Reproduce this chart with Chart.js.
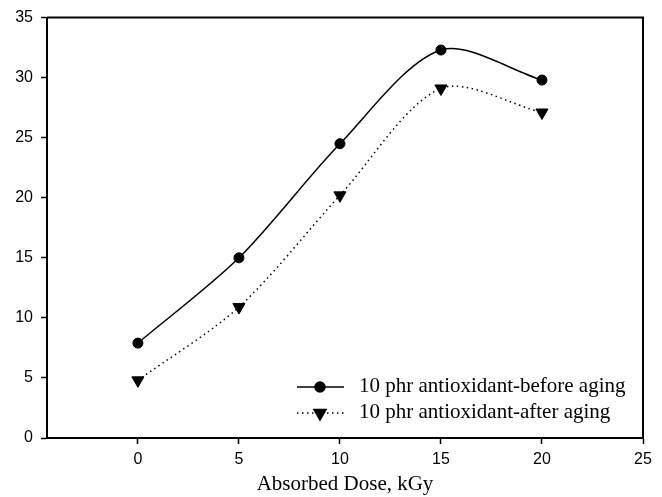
<!DOCTYPE html>
<html>
<head>
<meta charset="utf-8">
<script src="https://cdn.jsdelivr.net/npm/chart.js@4.4.1/dist/chart.umd.min.js"></script>
<style>
    html, body { margin: 0; padding: 0; background: #fff; }
    #wrap { width: 662px; height: 497px; }
</style>
</head>
<body>
<div id="wrap"><canvas id="chartDose"></canvas></div>
<script>
const doseValues = [0, 5, 10, 15, 20];
const beforeAging = [7.9, 15.0, 24.5, 32.3, 29.8];
const afterAging = [4.8, 10.9, 20.2, 29.1, 27.1];
const seriesLabels = ['10 phr antioxidant-before aging', '10 phr antioxidant-after aging'];
const xTicks = [0, 5, 10, 15, 20, 25];
const yTicks = [0, 5, 10, 15, 20, 25, 30, 35];

const toPoints = (ys) => doseValues.map((x, i) => ({ x: x, y: ys[i] }));

// frame on top / right + legend inside the plot
const framePlugin = {
    id: 'framePlugin',
    afterDraw(chart) {
        const ctx = chart.ctx;
        const a = chart.chartArea;
        ctx.save();
        ctx.strokeStyle = '#000';
        ctx.lineWidth = 2;
        ctx.beginPath();
        ctx.moveTo(a.left, a.top);
        ctx.lineTo(a.right, a.top);
        ctx.lineTo(a.right, a.bottom);
        ctx.stroke();

        const rows = [387, 413];
        chart.data.datasets.forEach((ds, i) => {
            const y = rows[i];
            ctx.lineWidth = ds.borderWidth;
            ctx.setLineDash(ds.borderDash || []);
            ctx.beginPath();
            ctx.moveTo(297, y);
            ctx.lineTo(344, y);
            ctx.stroke();
            ctx.setLineDash([]);
            ctx.fillStyle = '#000';
            Chart.helpers.drawPoint(ctx, {
                pointStyle: ds.pointStyle,
                radius: ds.pointRadius,
                rotation: ds.rotation || 0,
                borderWidth: 1
            }, 320, y);
            ctx.font = '21px "Liberation Serif", "Times New Roman", serif';
            ctx.textBaseline = 'middle';
            ctx.fillText(ds.label, 359, y - 1);
        });
        ctx.restore();
    }
};

const ctx = document.getElementById('chartDose').getContext('2d');
const chartDose = new Chart(ctx, {
    type: 'line',
    data: {
        datasets: [{
            label: seriesLabels[0],
            data: toPoints(beforeAging),
            borderColor: '#000',
            backgroundColor: '#000',
            borderWidth: 1.5,
            tension: 0.3,
            pointStyle: 'circle',
            pointRadius: 5,
            pointBorderWidth: 1
        }, {
            label: seriesLabels[1],
            data: toPoints(afterAging),
            borderColor: '#000',
            backgroundColor: '#000',
            borderWidth: 1.5,
            borderDash: [1.5, 3.5],
            tension: 0.3,
            pointStyle: 'triangle',
            rotation: 180,
            pointRadius: 7,
            pointBorderWidth: 1
        }]
    },
    options: {
        responsive: true,
        maintainAspectRatio: false,
        animation: false,
        layout: { padding: { top: 15, right: 19, left: 0, bottom: 0 } },
        plugins: {
            legend: { display: false },
            tooltip: { enabled: false }
        },
        scales: {
            x: {
                type: 'linear',
                min: -4.5,
                max: 25,
                afterBuildTicks: (s) => { s.ticks = xTicks.map(v => ({ value: v })); },
                afterFit: (s) => { s.height = 59; },
                grid: { drawOnChartArea: false, drawTicks: true, tickLength: 6, tickColor: '#000', tickWidth: 1.5 },
                border: { display: true, color: '#000', width: 2 },
                ticks: {
                    color: '#000',
                    padding: 6,
                    font: { family: '"Liberation Sans", Arial, sans-serif', size: 16 }
                },
                title: {
                    display: true,
                    text: 'Absorbed Dose, kGy',
                    color: '#000',
                    padding: { top: 0, bottom: 0 },
                    font: { family: '"Liberation Serif", "Times New Roman", serif', size: 21 }
                }
            },
            y: {
                min: 0,
                max: 35,
                afterBuildTicks: (s) => { s.ticks = yTicks.map(v => ({ value: v })); },
                afterFit: (s) => { s.width = 47; },
                grid: { drawOnChartArea: false, drawTicks: true, tickLength: 6, tickColor: '#000', tickWidth: 1.5 },
                border: { display: true, color: '#000', width: 2 },
                ticks: {
                    color: '#000',
                    padding: 8,
                    font: { family: '"Liberation Sans", Arial, sans-serif', size: 16 }
                }
            }
        }
    },
    plugins: [framePlugin]
});
</script>
</body>
</html>
